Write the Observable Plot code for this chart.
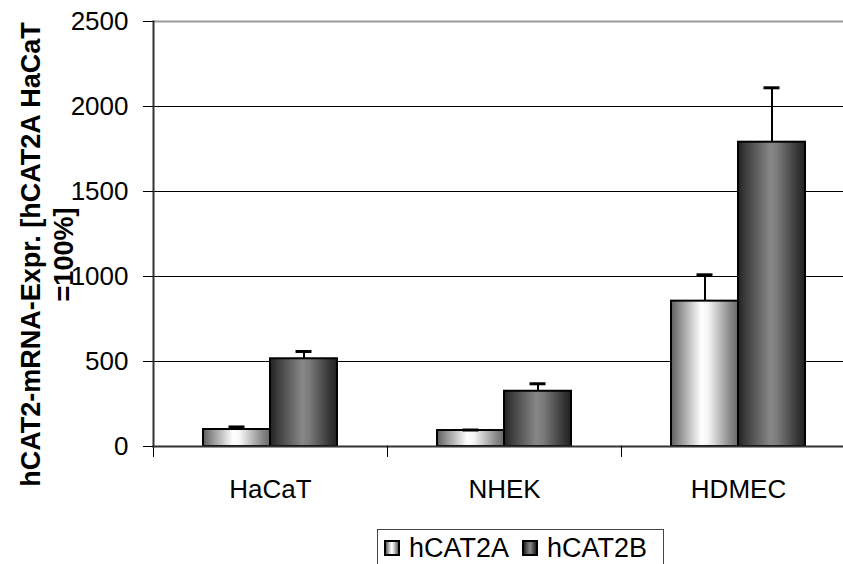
<!DOCTYPE html>
<html>
<head>
<meta charset="utf-8">
<script src="https://cdn.jsdelivr.net/npm/d3@7"></script>
<script src="https://cdn.jsdelivr.net/npm/@observablehq/plot@0.6"></script>
<style>
  html, body { margin: 0; padding: 0; background: white; }
  body { width: 843px; height: 564px; overflow: hidden; font-family: "Liberation Sans", Arial, sans-serif; }
  #chart { position: relative; width: 843px; height: 564px; }
  #legend {
    position: absolute; left: 377px; top: 529px; width: 287px; height: 48px;
    box-sizing: border-box; border: 1px solid #444; background: white;
    display: flex; align-items: center; padding: 0 0 10px 6px; gap: 0;
  }
  .sw { display: inline-block; width: 16px; height: 16px; box-sizing: border-box; border: 2px solid #000; }
  .lab { font-size: 27px; line-height: 27px; color: #000; margin-left: 9px; margin-right: 13px; }
</style>
</head>
<body>
<div id="chart"></div>
<script>
const categories = ["HaCaT", "NHEK", "HDMEC"];
const series = ["hCAT2A", "hCAT2B"];
const meanA = [100, 94, 855];
const meanB = [516, 325, 1790];
const upperA = [115, 97, 1010];
const upperB = [559, 369, 2110];
const yTicks = [0, 500, 1000, 1500, 2000, 2500];
const gridLines = [500, 1000, 1500, 2000];
const topLine = [2500];
const yTitle = "hCAT2-mRNA-Expr. [hCAT2A HaCaT\n=100%]";
const gradIds = ["gradA", "gradB"];
const gradStops = [
  [[0, "#5e5e5e"], [0.12, "#8c8c8c"], [0.45, "#ffffff"], [0.55, "#f6f6f6"], [0.88, "#8a8a8a"], [1, "#6a6a6a"]],
  [[0, "#222222"], [0.1, "#3a3a3a"], [0.48, "#878787"], [0.58, "#7c7c7c"], [0.9, "#333333"], [1, "#222222"]]
];

const data = categories.flatMap((c, i) => [
  {cell: c, series: series[0], value: meanA[i], upper: upperA[i]},
  {cell: c, series: series[1], value: meanB[i], upper: upperB[i]}
]);

const chart = Plot.plot({
  width: 843,
  height: 529,
  marginLeft: 153,
  marginRight: 0,
  marginTop: 21,
  marginBottom: 83,
  style: {fontFamily: "'Liberation Sans', Arial, sans-serif", background: "white", color: "black"},
  fx: {domain: categories, range: [153, 855], padding: 0, label: null},
  x: {domain: series, paddingInner: 0, paddingOuter: 0.746, axis: null},
  y: {domain: [0, 2500], axis: null},
  color: {domain: series, range: gradIds.map(id => `url(#${id})`)},
  marks: [
    Plot.ruleY(gridLines, {stroke: "#000", strokeWidth: 1}),
    Plot.ruleY(topLine, {stroke: "#999", strokeWidth: 2}),
    Plot.barY(data, {fx: "cell", x: "series", y: "value", fill: "series", stroke: "#000", strokeWidth: 2}),
    Plot.ruleX(data, {fx: "cell", x: "series", y1: "value", y2: "upper", stroke: "#000", strokeWidth: 2}),
    Plot.tickY(data, {fx: "cell", x: "series", y: "upper", stroke: "#000", strokeWidth: 3, insetLeft: 25.5, insetRight: 25.5}),
    Plot.frame({anchor: "bottom", stroke: "#333", strokeWidth: 2}),
    Plot.frame({anchor: "left", insetTop: 425, insetBottom: -10, stroke: "#000", strokeWidth: 1}),
    Plot.frame({anchor: "left", facetAnchor: "left", stroke: "#333", strokeWidth: 2}),
    Plot.axisY(yTicks, {tickSize: 10, tickPadding: 15, fontSize: 26, label: null, tickFormat: d => String(d), stroke: "#000"}),
    Plot.axisFx({anchor: "bottom", tickSize: 0, tickPadding: 33, fontSize: 26, label: null}),
    Plot.text([yTitle], {frameAnchor: "left", facetAnchor: "left", rotate: -90, dx: -108, dy: 20.5,
      lineAnchor: "middle", lineHeight: 1.22, fontSize: 27, fontWeight: "bold", textAnchor: "middle", fill: "#000"})
  ]
});

const defs = d3.select(chart).insert("defs", ":first-child");
gradIds.forEach((id, k) => {
  const g = defs.append("linearGradient").attr("id", id).attr("x1", "0").attr("x2", "1").attr("y1", "0").attr("y2", "0");
  gradStops[k].forEach(([o, c]) => g.append("stop").attr("offset", o).attr("stop-color", c));
});

const holder = document.getElementById("chart");
holder.appendChild(chart);

const legend = document.createElement("div");
legend.id = "legend";
series.forEach((s, k) => {
  const sw = document.createElement("span");
  sw.className = "sw";
  sw.style.background = `linear-gradient(to right, ${gradStops[k].map(([o, c]) => `${c} ${o * 100}%`).join(", ")})`;
  const lab = document.createElement("span");
  lab.className = "lab";
  lab.textContent = s;
  legend.appendChild(sw);
  legend.appendChild(lab);
});
holder.appendChild(legend);
</script>
</body>
</html>
